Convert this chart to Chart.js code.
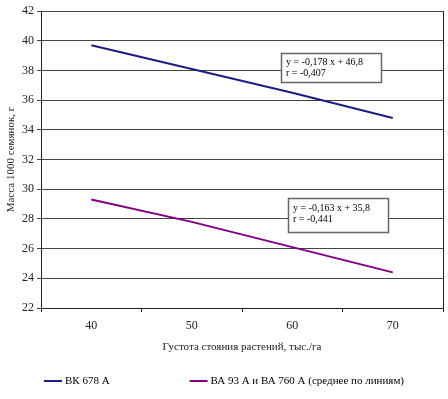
<!DOCTYPE html>
<html>
<head>
<meta charset="utf-8">
<script src="https://cdn.jsdelivr.net/npm/chart.js@4"></script>
<style>
html,body{margin:0;padding:0;background:#fff;}
#wrap{width:448px;height:399px;}
</style>
</head>
<body>
<div id="wrap"><canvas id="c" width="448" height="399"></canvas></div>
<script>
const categories = ['40', '50', '60', '70'];
const seriesBK = [39.7, 38.1, 36.5, 34.8];
const seriesBA = [29.3, 27.8, 26.1, 24.4];
const seriesLabels = ['ВК 678 А', 'ВА 93 А и ВА 760 А (среднее по линиям)'];
const yTicks = [22, 24, 26, 28, 30, 32, 34, 36, 38, 40, 42];
const eqLabels = [
  ['y = -0,178 x + 46,8', 'r = -0,407'],
  ['y = -0,163 x + 35,8', 'r = -0,441']
];
// annotation anchors in data coordinates (category index, value)
const eqAnchors = [[1.89, 39.2], [1.96, 29.4]];

const FONT = 'Liberation Serif, Times New Roman, serif';
const colors = ['#1c1c84', '#800080'];

const extras = {
  id: 'extras',
  afterDraw(chart) {
    const ctx = chart.ctx, ca = chart.chartArea;
    const xs = chart.scales.x, ys = chart.scales.y;
    ctx.save();
    // right border
    ctx.strokeStyle = '#222';
    ctx.lineWidth = 1;
    ctx.beginPath();
    ctx.moveTo(Math.round(ca.right) + 0.5, ca.top);
    ctx.lineTo(Math.round(ca.right) + 0.5, ca.bottom);
    ctx.stroke();
    // equation boxes
    ctx.font = '10px ' + FONT;
    ctx.textBaseline = 'middle';
    eqLabels.forEach((lines, i) => {
      const x = Math.round(xs.getPixelForValue(eqAnchors[i][0]));
      const y = Math.round(ys.getPixelForValue(eqAnchors[i][1]));
      const w = 100, h = i === 0 ? 29 : 34;
      ctx.fillStyle = '#fff';
      ctx.fillRect(x, y, w, h);
      ctx.strokeStyle = '#666';
      ctx.lineWidth = 1.5;
      ctx.strokeRect(x + 0.5, y + 0.5, w, h);
      ctx.fillStyle = '#000';
      lines.forEach((t, k) => {
        ctx.fillText(t, x + 5, y + 9 + k * 11 + (i === 1 ? 1 : 0));
      });
    });
    // legend
    ctx.font = '11px ' + FONT;
    const lineLen = 18, gap = 3, itemGap = 80;
    const items = chart.data.datasets.map(d => ({label: d.label, color: d.borderColor, w: lineLen + gap + ctx.measureText(d.label).width}));
    const total = items.reduce((s, it) => s + it.w, 0) + itemGap * (items.length - 1);
    let lx = chart.width / 2 - total / 2;
    const ly = 381;
    items.forEach(it => {
      ctx.strokeStyle = it.color;
      ctx.lineWidth = 2;
      ctx.beginPath();
      ctx.moveTo(lx, ly);
      ctx.lineTo(lx + lineLen, ly);
      ctx.stroke();
      ctx.fillStyle = '#000';
      ctx.textAlign = 'left';
      ctx.fillText(it.label, lx + lineLen + gap, ly);
      lx += it.w + itemGap;
    });
    ctx.restore();
  }
};

new Chart(document.getElementById('c'), {
  type: 'line',
  data: {
    labels: categories,
    datasets: [
      {label: seriesLabels[0], data: seriesBK, borderColor: colors[0], backgroundColor: colors[0], borderWidth: 2, pointRadius: 0, tension: 0},
      {label: seriesLabels[1], data: seriesBA, borderColor: colors[1], backgroundColor: colors[1], borderWidth: 2, pointRadius: 0, tension: 0}
    ]
  },
  options: {
    responsive: false,
    animation: false,
    layout: {padding: {left: 0, right: 5, top: 11, bottom: 45}},
    plugins: {legend: {display: false}, tooltip: {enabled: false}},
    scales: {
      x: {
        offset: true,
        grid: {offset: true, drawOnChartArea: false, drawTicks: true, tickLength: 4, color: '#222'},
        border: {color: '#222'},
        ticks: {color: '#222', font: {family: FONT, size: 12}, padding: 7, maxRotation: 0},
        title: {display: true, text: 'Густота стояния растений, тыс./га', color: '#222', font: {family: FONT, size: 11}, padding: 0},
        afterFit(s) { s.height = 46; }
      },
      y: {
        min: 22, max: 42,
        afterBuildTicks(s) { s.ticks = yTicks.map(v => ({value: v})); },
        grid: {color: '#444', tickLength: 4, drawTicks: true},
        border: {color: '#222'},
        ticks: {color: '#222', font: {family: FONT, size: 12}, padding: 3},
        title: {display: true, text: 'Масса 1000 семянок, г', color: '#222', font: {family: FONT, size: 11}, padding: {top: 5, bottom: 0}},
        afterFit(s) { s.width = 41; }
      }
    }
  },
  plugins: [extras]
});
</script>
</body>
</html>
